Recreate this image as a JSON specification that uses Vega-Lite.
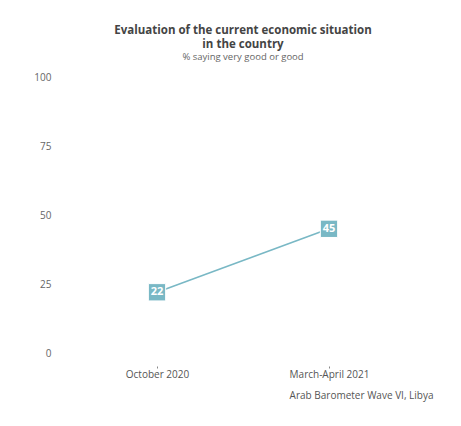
{
  "$schema": "https://vega.github.io/schema/vega-lite/v6.json",
  "width": 366,
  "height": 276,
  "autosize": "none",
  "padding": {"left": 60, "top": 77, "right": 35, "bottom": 73},
  "background": "white",
  "title": {
    "text": ["Evaluation of the current economic situation", "in the country"],
    "subtitle": "% saying very good or good",
    "anchor": "middle",
    "frame": "group",
    "font": "Open Sans",
    "fontSize": 11.5,
    "fontWeight": "bold",
    "color": "#444444",
    "lineHeight": 14,
    "subtitleFont": "Open Sans",
    "subtitleFontSize": 9.5,
    "subtitleColor": "#666666",
    "subtitlePadding": 1,
    "offset": 11
  },
  "data": {
    "values": [
      {"wave": "October 2020", "value": 22},
      {"wave": "March-April 2021", "value": 45}
    ]
  },
  "encoding": {
    "x": {
      "field": "wave",
      "type": "ordinal",
      "sort": null,
      "scale": {"type": "point", "padding": 0.564},
      "axis": {
        "title": "Arab Barometer Wave VI, Libya",
        "titleAnchor": "end",
        "titleAlign": "right",
        "titleX": 373,
        "titleY": 24,
        "titleFont": "Open Sans",
        "titleFontSize": 10,
        "titleFontWeight": "normal",
        "titleColor": "#555555",
        "labelAngle": 0,
        "labelFont": "Open Sans",
        "labelFontSize": 10,
        "labelColor": "#555555",
        "labelPadding": 1,
        "domain": false,
        "grid": false,
        "ticks": true,
        "tickSize": 2,
        "tickOffset": 0,
        "tickColor": "#888888",
        "offset": 13
      }
    },
    "y": {
      "field": "value",
      "type": "quantitative",
      "scale": {"domain": [0, 100], "nice": false},
      "axis": {
        "title": null,
        "values": [0, 25, 50, 75, 100],
        "domain": false,
        "ticks": false,
        "grid": false,
        "labelFont": "Open Sans",
        "labelFontSize": 10,
        "labelColor": "#666666",
        "labelPadding": 9
      }
    }
  },
  "layer": [
    {
      "mark": {"type": "line", "color": "#79b8c5", "strokeWidth": 1.6}
    },
    {
      "mark": {"type": "point", "shape": "square", "filled": true, "size": 300, "color": "#79b8c5", "opacity": 1, "stroke": "white", "strokeWidth": 1}
    },
    {
      "mark": {"type": "text", "color": "white", "font": "Open Sans", "fontWeight": "bold", "fontSize": 11},
      "encoding": {"text": {"field": "value", "type": "quantitative"}}
    }
  ],
  "config": {"view": {"stroke": null}}
}
